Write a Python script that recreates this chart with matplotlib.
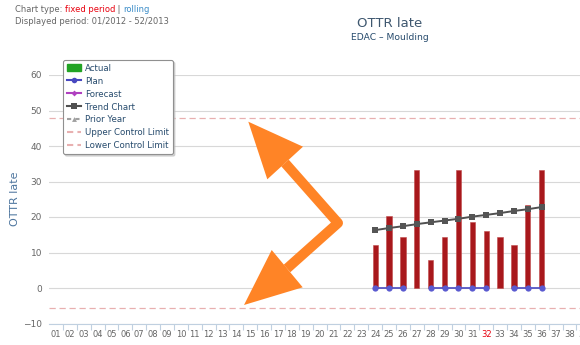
import matplotlib

matplotlib.use("Agg")
import matplotlib.pyplot as plt
import numpy as np
from matplotlib.lines import Line2D
from matplotlib.patches import Patch, Polygon

# Week categories on the x axis
weeks = [f"{w:02d}" for w in range(1, 40)]
current_week = "32"

# Actual OTTR late values (weeks 24..36)
actual_weeks = ["24", "25", "26", "27", "28", "29", "30", "31", "32", "33", "34", "35", "36"]
actual_values = [12.0, 20.2, 14.4, 33.2, 7.9, 14.4, 33.2, 18.7, 16.0, 14.4, 12.0, 23.3, 33.2]

# Plan values (gaps where no plan exists)
plan_values = [0, 0, 0, None, 0, 0, 0, 0, 0, None, 0, 0, 0]

# Trend chart values
trend_values = [16.3, 16.9, 17.4, 18.0, 18.5, 19.0, 19.5, 20.1, 20.6, 21.1, 21.7, 22.2, 22.8]

upper_control_limit = 48
lower_control_limit = -5.6

W, H = 580, 345
fig = plt.figure(figsize=(W / 100, H / 100), dpi=100)


def px(x, y):
    """Pixel position (from top-left) to figure fraction."""
    return x / W, 1 - y / H


band = 13.88
left, top, bottom = 49, 75, 323.5
ax_w = len(weeks) * band
ax = fig.add_axes([left / W, 1 - bottom / H, ax_w / W, (bottom - top) / H])
ax.set_xlim(-0.5, len(weeks) - 0.5)
ax.set_ylim(-10, 60)

for s in ("top", "right", "left"):
    ax.spines[s].set_visible(False)
ax.spines["bottom"].set_color("#c0d0e0")
ax.spines["bottom"].set_linewidth(0.8)

ax.set_yticks(range(-10, 61, 10))
ax.yaxis.grid(True, color="#d8d8d8", linewidth=0.8)
ax.set_axisbelow(True)
ax.tick_params(axis="y", length=0, pad=5, labelsize=6.5, labelcolor="#666666")

# Category ticks sit on the band boundaries, labels in the centre
x = np.arange(len(weeks))
ax.set_xticks(x)
ax.set_xticklabels(weeks)
ax.tick_params(axis="x", length=0, pad=5, labelsize=6, labelcolor="#666666")
for lbl in ax.get_xticklabels():
    if lbl.get_text() == current_week:
        lbl.set_color("#e8000e")
ax.set_xticks(x[:-1] + 0.5, minor=True)
ax.tick_params(axis="x", which="minor", length=4, color="#c0d0e0", width=0.8, direction="out")

idx = [weeks.index(w) for w in actual_weeks]

ax.bar(idx, actual_values, width=0.38, color="#a8181c", edgecolor="#c04a4a", linewidth=0.4, zorder=2)

plan = np.array([np.nan if v is None else v for v in plan_values], dtype=float)
ax.plot(idx, plan, color="#4848c0", linewidth=1.2, marker="o", markersize=4.5,
        markerfacecolor="#5a5ad0", markeredgewidth=0, zorder=3, clip_on=False)

ax.plot(idx, trend_values, color="#505050", linewidth=1.4, marker="s", markersize=5,
        markerfacecolor="#555555", markeredgewidth=0, zorder=4)

for limit in (upper_control_limit, lower_control_limit):
    ax.axhline(limit, color="#e8b0b0", linewidth=0.9, linestyle=(0, (5, 3)), zorder=1)

ax.set_ylabel("OTTR late", fontsize=8, color="#4d759e")
ax.yaxis.set_label_coords((15 - left) / ax_w, 0.5)
ax.yaxis.label.set_va("center")

# Legend
handles = [
    Patch(facecolor="#22a325", edgecolor="#22a325"),
    Line2D([], [], color="#4848c0", marker="o", markersize=4, markeredgewidth=0),
    Line2D([], [], color="#b040c0", marker="D", markersize=3, markeredgewidth=0),
    Line2D([], [], color="#505050", marker="s", markersize=4, markeredgewidth=0),
    Line2D([], [], color="#a0a0a0", marker="^", markersize=3.5, markeredgewidth=0, linestyle=(0, (2, 2))),
    Line2D([], [], color="#e8b0b0", linestyle=(0, (3, 2))),
    Line2D([], [], color="#e8b0b0", linestyle=(0, (3, 2))),
]
labels = ["Actual", "Plan", "Forecast", "Trend Chart", "Prior Year",
          "Upper Control Limit", "Lower Control Limit"]
leg = fig.legend(handles, labels, loc="upper left", bbox_to_anchor=px(63, 60),
                 bbox_transform=fig.transFigure, fontsize=6.2, labelcolor="#274b6d",
                 frameon=True, fancybox=True,
                 shadow={"color": "#bbbbbb", "alpha": 0.6, "ox": 1.5, "oy": -1.5},
                 labelspacing=0.45, handlelength=1.6, handletextpad=0.5,
                 borderpad=0.45, borderaxespad=0, handleheight=0.9)
leg.get_frame().set_edgecolor("#909090")
leg.get_frame().set_linewidth(0.8)

# Header
hdr = dict(fontsize=6, va="center")
t1 = fig.text(*px(15, 10), "Chart type: ", color="#666666", **hdr)
t2 = fig.text(0, 0, "fixed period", color="#e8000e", **hdr)
t3 = fig.text(0, 0, " | ", color="#666666", **hdr)
t4 = fig.text(0, 0, "rolling", color="#3a8cc8", **hdr)
fig.canvas.draw()
r = fig.canvas.get_renderer()
prev = t1
for t in (t2, t3, t4):
    bb = prev.get_window_extent(r)
    t.set_position((bb.x1 / W, 1 - 10 / H))
    prev = t
fig.text(*px(15, 22), "Displayed period: 01/2012 - 52/2013", color="#666666", **hdr)

# Titles
fig.text(*px(390, 23.5), "OTTR late", fontsize=9.5, color="#3e576f", ha="center", va="center")
fig.text(*px(390, 37.5), "EDAC \u2013 Moulding", fontsize=6.6, color="#274b6d", ha="center", va="center")

# Orange double-headed callout arrow
orange = "#ff8426"
shaft = [px(285, 163), px(338, 223), px(287, 268.5)]
fig.add_artist(Line2D([p[0] for p in shaft], [p[1] for p in shaft], transform=fig.transFigure,
                      color=orange, linewidth=7.2, solid_joinstyle="round", solid_capstyle="butt"))
fig.add_artist(Polygon([px(248.3, 121.7), px(303, 146.7), px(267.3, 179.3)], closed=True,
                       transform=fig.transFigure, color=orange, linewidth=0))
fig.add_artist(Polygon([px(244, 305), px(271.7, 250), px(302.7, 287.3)], closed=True,
                       transform=fig.transFigure, color=orange, linewidth=0))

fig.savefig("out.png", dpi=100)
